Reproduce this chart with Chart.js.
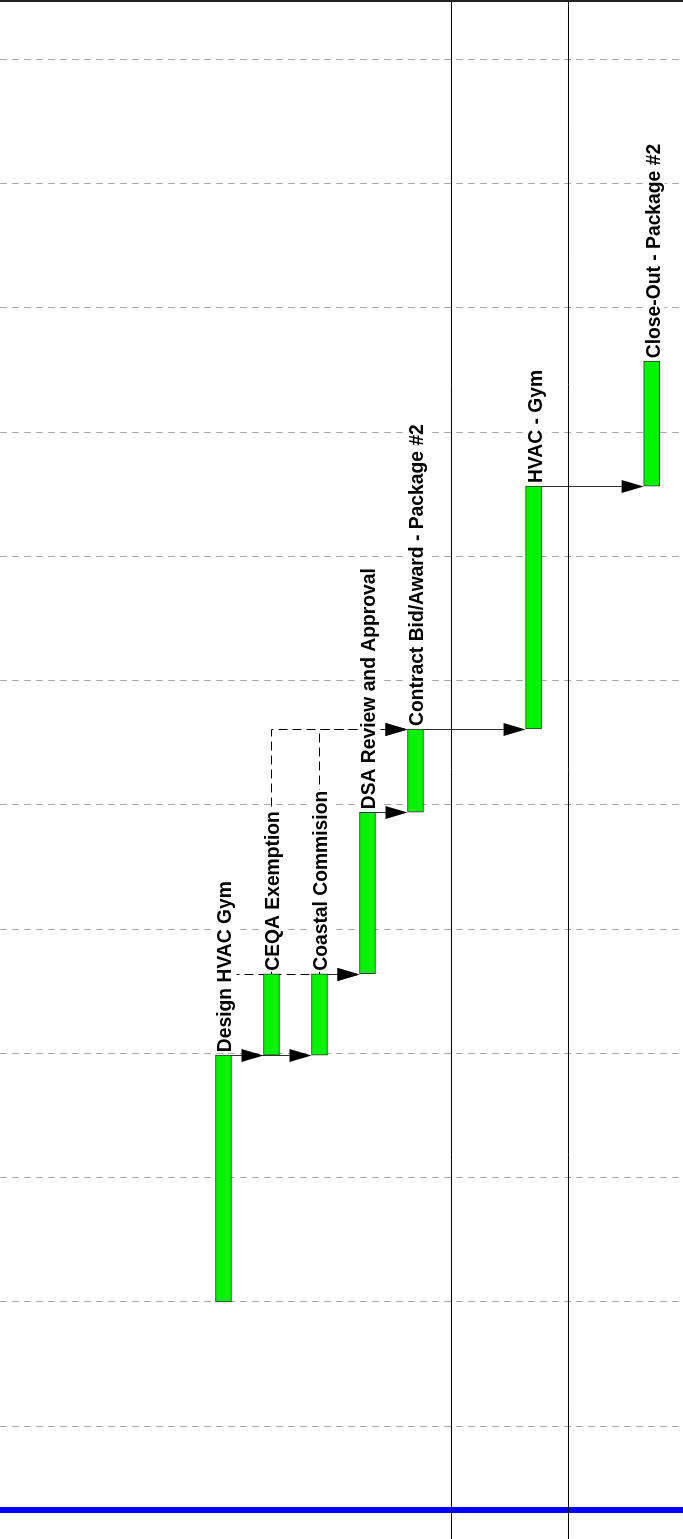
<!DOCTYPE html>
<html>
<head>
<meta charset="utf-8">
<style>
  html, body { margin: 0; padding: 0; background: #fff; }
  #wrap { width: 683px; height: 1539px; }
</style>
</head>
<body>
<div id="wrap"><canvas id="chart" width="683" height="1539"></canvas></div>
<script src="https://cdn.jsdelivr.net/npm/chart.js@4.4.0/dist/chart.umd.min.js"></script>
<script>
// time runs upward, one unit = one month between dashed gridlines
const taskNames = ['Design HVAC Gym', 'CEQA Exemption', 'Coastal Commision', 'DSA Review and Approval',
  'Contract Bid/Award - Package #2', 'HVAC - Gym', 'Close-Out - Package #2'];
const taskLanes = [0, 1, 2, 3, 4, 6.46, 8.92];
const taskStarts = [1.0, 2.985, 2.985, 3.64, 4.94, 5.61, 7.565];
const taskEnds = [2.985, 3.64, 3.64, 4.94, 5.61, 7.565, 8.57];

// dependency links: from task, to task, task whose finish sets the level, dashed or not
const linkFrom = [0, 0, 0, 2, 3, 1, 2, 4, 5];
const linkTo = [1, 2, 3, 3, 4, 4, 4, 5, 6];
const linkAt = [0, 0, 1, 2, 3, 4, 4, 4, 5];
const linkDashed = [false, false, true, false, false, true, true, false, false];

const monthTicks = [0, 1, 2, 3, 4, 5, 6, 7, 8, 9, 10, 11];
const separatorLanes = [4.75, 7.1875];
const statusDate = -0.676;

const laneRange = [-4.656, 9.573];
const timeRange = [-0.909, 11.477];

const barThickness = 16;
const arrowLen = 22;
const arrowHalf = 6.5;
const labelFont = 'bold 19.3px "Liberation Sans", Arial, sans-serif';

function crisp(v) {
  return Math.round(v) + 0.5;
}

const ganttDecor = {
  id: 'ganttDecor',
  beforeDatasetsDraw(chart) {
    const { ctx, scales: { x, y } } = chart;
    ctx.save();
    ctx.lineWidth = 1;
    linkFrom.forEach((from, i) => {
      const to = linkTo[i];
      const cx = x.getPixelForValue(taskLanes[from]);
      const startY = crisp(y.getPixelForValue(taskEnds[from]));
      const levelY = crisp(y.getPixelForValue(taskEnds[linkAt[i]]));
      const tipX = x.getPixelForValue(taskLanes[to]) - barThickness / 2;
      ctx.strokeStyle = linkDashed[i] ? '#000' : '#333';
      ctx.setLineDash(linkDashed[i] ? [9, 5] : []);
      // draw from the arrow end backwards so shared dashed runs line up
      ctx.beginPath();
      ctx.moveTo(tipX - arrowLen, levelY);
      ctx.lineTo(crisp(cx), levelY);
      if (levelY !== startY) {
        ctx.lineTo(crisp(cx), startY);
      }
      ctx.stroke();
    });
    ctx.restore();
  },
  afterDatasetsDraw(chart) {
    const { ctx, scales: { x, y } } = chart;
    ctx.save();
    ctx.font = labelFont;
    ctx.textAlign = 'left';
    ctx.textBaseline = 'alphabetic';
    taskNames.forEach((name, i) => {
      const right = x.getPixelForValue(taskLanes[i]) + barThickness / 2;
      const top = y.getPixelForValue(taskEnds[i]) - 3;
      const w = ctx.measureText(name).width;
      ctx.save();
      ctx.translate(right, top);
      ctx.rotate(-Math.PI / 2);
      ctx.fillStyle = '#fff';
      ctx.fillRect(-1, -16, w + 2, 21);
      ctx.fillStyle = '#000';
      ctx.fillText(name, 0, 0);
      ctx.restore();
    });
    ctx.fillStyle = '#000';
    linkTo.forEach((to, i) => {
      const levelY = crisp(y.getPixelForValue(taskEnds[linkAt[i]]));
      const tipX = x.getPixelForValue(taskLanes[to]) - barThickness / 2;
      ctx.beginPath();
      ctx.moveTo(tipX, levelY);
      ctx.lineTo(tipX - arrowLen, levelY - arrowHalf);
      ctx.lineTo(tipX - arrowLen, levelY + arrowHalf);
      ctx.closePath();
      ctx.fill();
    });
    ctx.restore();
  },
  afterDraw(chart) {
    const { ctx, chartArea } = chart;
    ctx.save();
    ctx.fillStyle = '#222';
    ctx.fillRect(chartArea.left, chartArea.top, chartArea.right - chartArea.left, 2);
    ctx.restore();
  }
};

const barDataset = {
  type: 'bar',
  data: taskNames.map((name, i) => ({ x: taskLanes[i], y: [taskStarts[i], taskEnds[i]] })),
  backgroundColor: '#00f400',
  borderColor: '#333',
  borderWidth: 1,
  borderSkipped: false,
  barThickness: barThickness,
  grouped: false,
  order: 0
};

const statusDataset = {
  type: 'line',
  data: [{ x: laneRange[0], y: statusDate }, { x: laneRange[1], y: statusDate }],
  borderColor: '#0000ff',
  borderWidth: 6,
  pointRadius: 0,
  order: 3
};

const separatorDatasets = separatorLanes.map(lane => ({
  type: 'line',
  data: [{ x: lane, y: timeRange[0] }, { x: lane, y: timeRange[1] }],
  borderColor: '#000',
  borderWidth: 1,
  pointRadius: 0,
  order: 2
}));

new Chart(document.getElementById('chart').getContext('2d'), {
  type: 'bar',
  data: {
    datasets: [barDataset, ...separatorDatasets, statusDataset]
  },
  options: {
    responsive: false,
    animation: false,
    layout: { padding: 0 },
    plugins: {
      legend: { display: false },
      tooltip: { enabled: false }
    },
    scales: {
      x: {
        type: 'linear',
        display: false,
        offset: false,
        min: laneRange[0],
        max: laneRange[1]
      },
      y: {
        type: 'linear',
        min: timeRange[0],
        max: timeRange[1],
        afterBuildTicks: axis => {
          axis.ticks = monthTicks.map(v => ({ value: v }));
        },
        ticks: { display: false },
        grid: { color: '#aaa', lineWidth: 1, drawTicks: false },
        border: { display: false, dash: [7, 5] }
      }
    }
  },
  plugins: [ganttDecor]
});
</script>
</body>
</html>
